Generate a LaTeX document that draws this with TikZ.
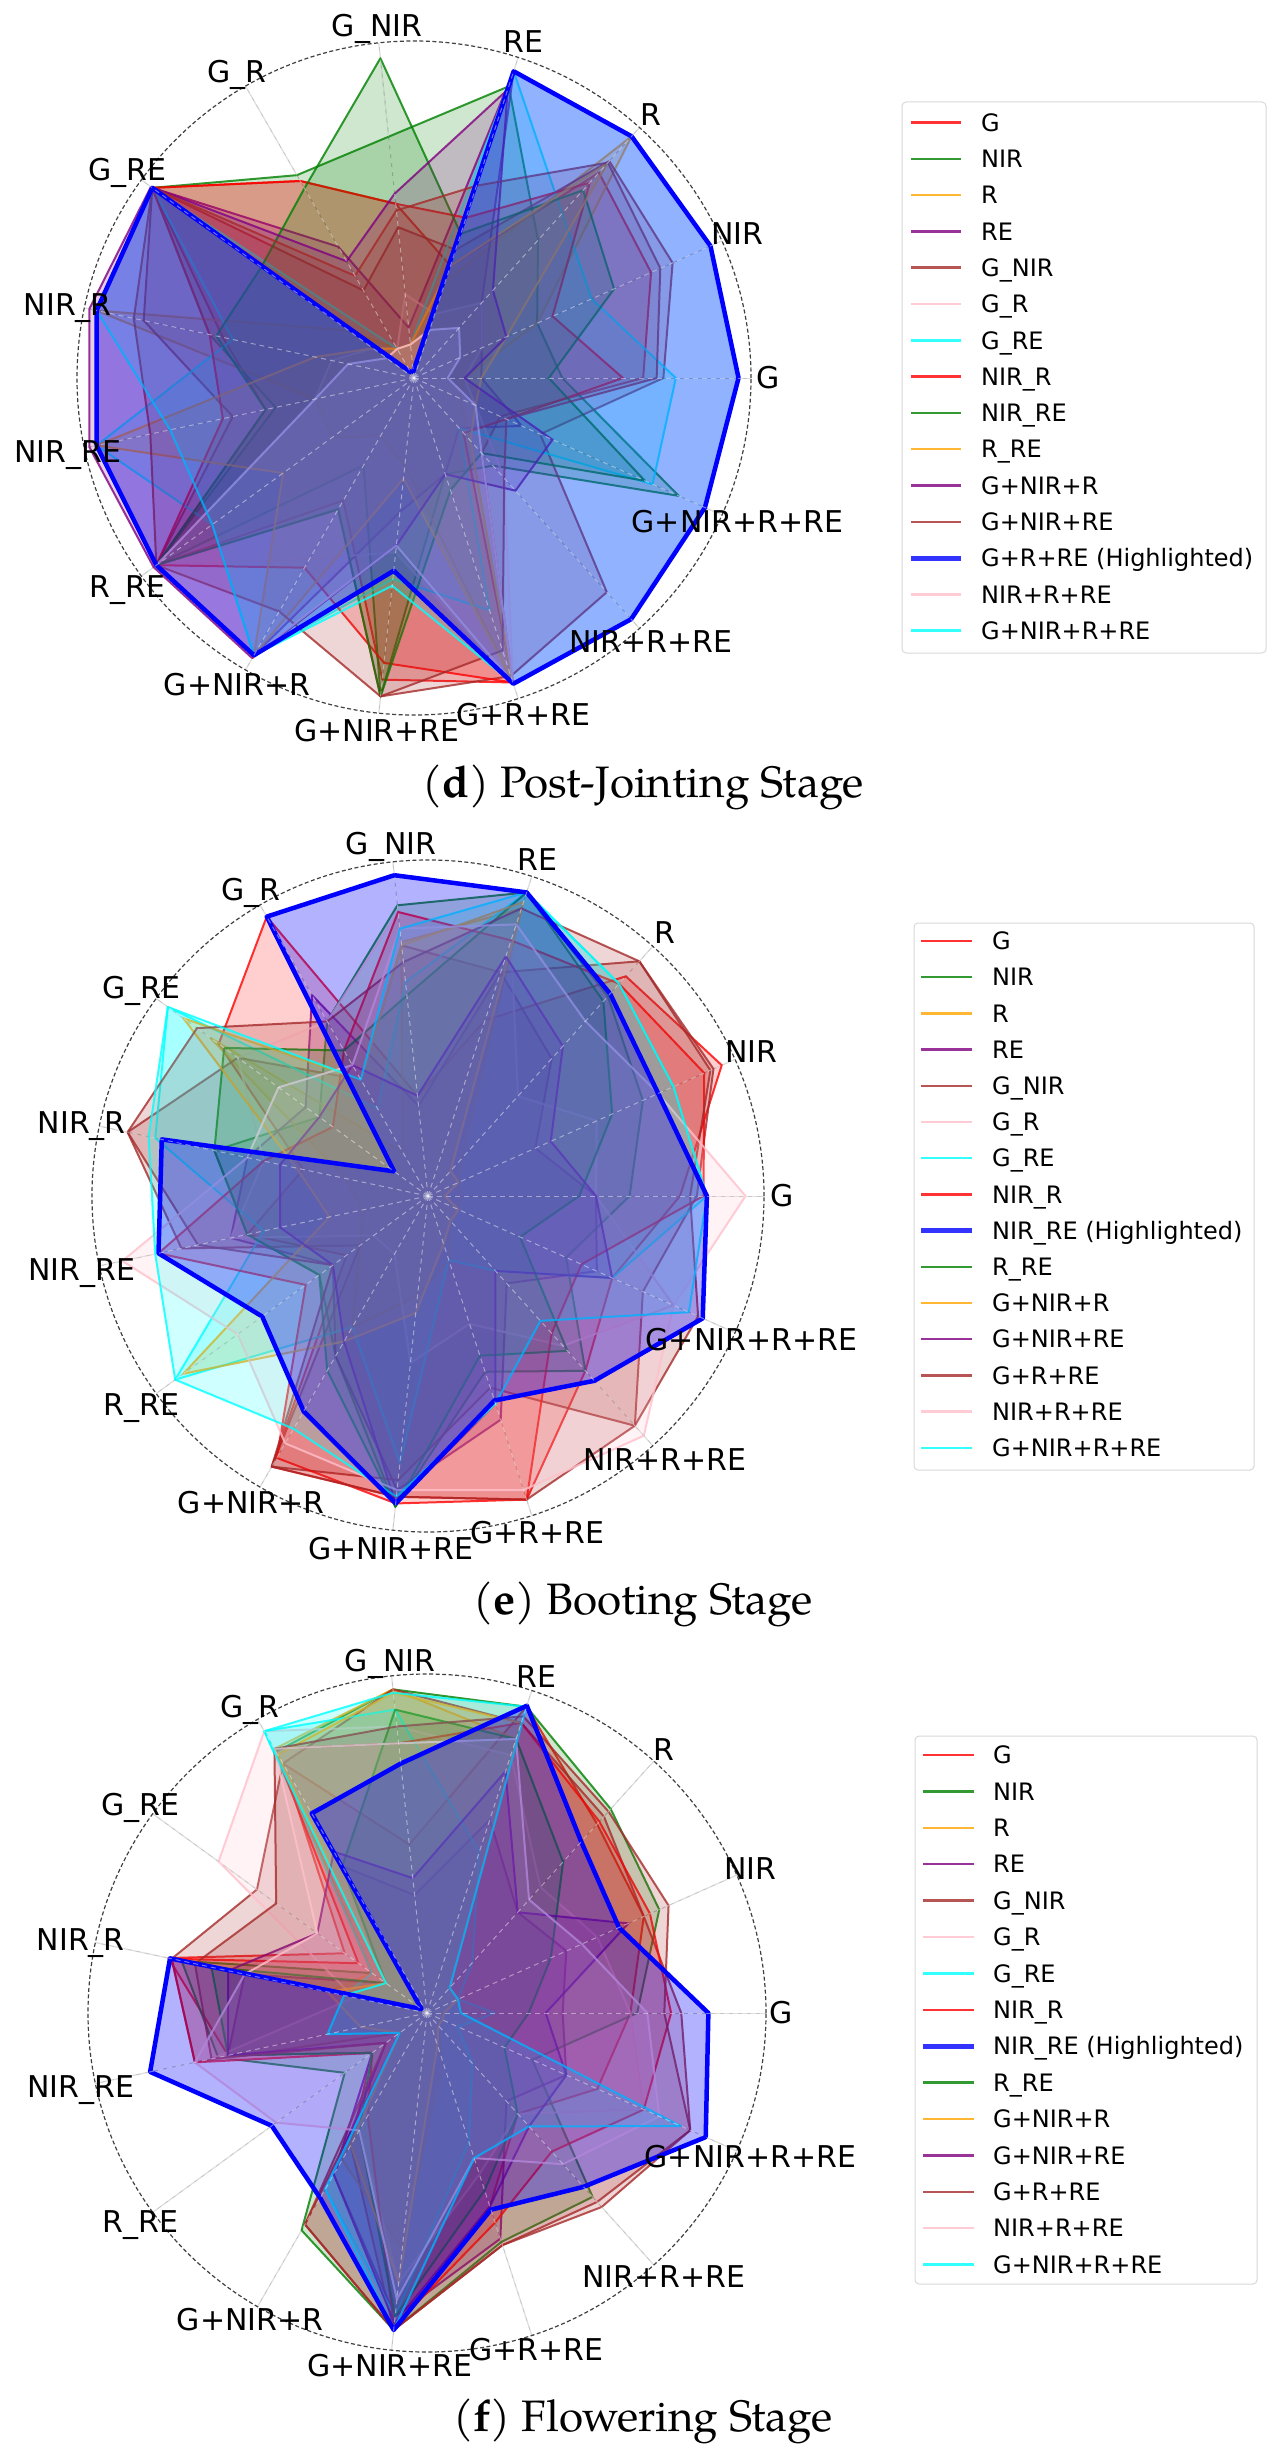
\documentclass[tikz,border=0pt]{standalone}
\usepackage{fontspec}
\setmainfont{DejaVu Sans}
\newfontfamily\capfont{TeX Gyre Pagella}
\definecolor{mred}{HTML}{FF0000}
\definecolor{mgreen}{HTML}{008000}
\definecolor{morange}{HTML}{FFA500}
\definecolor{mpurple}{HTML}{800080}
\definecolor{mbrown}{HTML}{A52A2A}
\definecolor{mpink}{HTML}{FFC0CB}
\definecolor{mcyan}{HTML}{00FFFF}
\definecolor{mblue}{HTML}{0000FF}
\tikzset{
  ser/.style={draw=#1, draw opacity=0.8, fill=#1, fill opacity=0.19, line width=2pt, line join=round},
  hlser/.style={draw=mblue, fill=mblue, fill opacity=0.3, line width=4.5pt, line join=round},
  gridln/.style={draw=gray!45, line width=1pt},
  gridov/.style={draw=white, draw opacity=0.45, line width=1pt, dash pattern=on 5pt off 4pt},
  outer/.style={draw=black!75, line width=1.2pt, dash pattern=on 4pt off 2.5pt},
  axlab/.style={font=\fontsize{30}{36}\selectfont, inner sep=0pt, text height=21.9pt, text depth=0pt, anchor=center},
  legbox/.style={draw=black!15, fill=white, rounded corners=4pt, line width=1pt},
  legtxt/.style={font=\fontsize{24}{29}\selectfont, inner sep=0pt, anchor=base west},
  captxt/.style={font={\capfont\fontsize{44}{52}\selectfont}, inner sep=0pt, anchor=base},
}
\newcommand\rpoly[3]{\path[#1] (0:{#2*\RR}) \foreach \v [count=\i] in {#3} { -- ({\i*24}:{\v*\RR}) } -- cycle;}
\newcommand\chartgrid{%
  \foreach \a in {0,24,...,336} \draw[gridln] (0,0) -- (\a:\RR);}
\newcommand\chartover[1]{%
  \foreach \a in {0,24,...,336} \draw[gridov] (0,0) -- (\a:\RR);
  \draw[outer] (0,0) circle[radius=\RR];
  \foreach \a/\t [count=\k] in {0/G,24/NIR,48/R,72/RE,96/G\_NIR,120/G\_R,144/G\_RE,168/NIR\_R,192/NIR\_RE,216/R\_RE,240/G+NIR+R,264/G+NIR+RE,288/G+R+RE,312/NIR+R+RE,336/G+NIR+R+RE}
    \node[axlab] (#1lab\k) at (\a:354) {\t};}
\begin{document}
\begin{tikzpicture}[x=1pt,y=-1pt]
\useasboundingbox (0,0) rectangle (1280,2459);
\fill[white] (0,0) rectangle (1280,2459);

% ---------------- chart d ----------------
\begin{scope}[shift={(414,378)}, yscale=-1]
\def\RR{337}
\chartgrid
\rpoly{ser=mred}{0.68}{0.77,0.82,0.35,0.52,0.675,0.96,0.58,0.45,0.945,0.42,0.90,0.95,0.30,0.28}
\rpoly{ser=mgreen}{0.44}{0.40,0.55,0.91,0.72,0.695,0.96,0.62,0.42,0.945,0.30,0.95,0.30,0.35,0.86}
\rpoly{ser=morange}{0.15}{0.40,0.965,0.30,0.10,0.10,0.24,0.963,0.30,0.30,0.20,0.26,0.95,0.25,0.15}
\rpoly{ser=mpurple}{0.20}{0.22,0.30,0.957,0.15,0.45,0.96,0.963,0.963,0.945,0.95,0.40,0.30,0.20,0.35}
\rpoly{ser=mbrown}{0.74}{0.84,0.866,0.40,0.45,0.30,0.96,0.82,0.55,0.945,0.45,0.95,0.93,0.855,0.41}
\rpoly{ser=mpink}{0.15}{0.22,0.30,0.20,0.25,0.10,0.15,0.25,0.30,0.945,0.62,0.52,0.95,0.40,0.20}
\rpoly{ser=mcyan}{0.777}{0.577,0.657,0.957,0.10,0.10,0.96,0.55,0.963,0.74,0.95,0.60,0.725,0.20,0.775}
\rpoly{ser=mred}{0.62}{0.45,0.78,0.50,0.52,0.675,0.96,0.62,0.58,0.945,0.65,0.85,0.95,0.22,0.30}
\rpoly{ser=mgreen}{0.40}{0.65,0.75,0.45,0.954,0.65,0.56,0.60,0.45,0.945,0.45,0.95,0.35,0.30,0.75}
\rpoly{ser=morange}{0.20}{0.30,0.86,0.35,0.10,0.10,0.15,0.30,0.963,0.48,0.95,0.30,0.94,0.25,0.20}
\rpoly{ser=mpurple}{0.15}{0.30,0.35,0.90,0.55,0.40,0.965,0.985,0.985,0.955,0.96,0.50,0.30,0.45,0.45}
\rpoly{ser=mbrown}{0.72}{0.80,0.86,0.60,0.50,0.35,0.96,0.85,0.80,0.945,0.80,0.95,0.85,0.40,0.30}
\rpoly{ser=mpink}{0.10}{0.15,0.20,0.15,0.10,0.10,0.10,0.20,0.30,0.945,0.95,0.50,0.95,0.30,0.20}
\rpoly{ser=mcyan}{0.963}{0.963,0.965,0.957,0.02,0.02,0.96,0.963,0.74,0.74,0.95,0.62,0.954,0.963,0.945}
\rpoly{hlser}{0.963}{0.963,0.965,0.957,0.02,0.02,0.96,0.963,0.963,0.945,0.95,0.575,0.954,0.963,0.945}
\chartover{d}
\end{scope}

% ---------------- chart e ----------------
\begin{scope}[shift={(428,1196)}, yscale=-1]
\def\RR{336}
\chartgrid
\rpoly{ser=mred}{0.75}{0.957,0.88,0.55,0.30,0.96,0.77,0.38,0.55,0.30,0.93,0.90,0.95,0.70,0.60}
\rpoly{ser=mgreen}{0.60}{0.70,0.80,0.95,0.87,0.60,0.40,0.65,0.55,0.40,0.55,0.93,0.55,0.70,0.45}
\rpoly{ser=morange}{0.10}{0.10,0.15,0.90,0.76,0.15,0.80,0.25,0.20,0.25,0.45,0.30,0.20,0.10,0.10}
\rpoly{ser=mpurple}{0.50}{0.35,0.55,0.70,0.27,0.69,0.45,0.55,0.60,0.35,0.55,0.88,0.70,0.35,0.55}
\rpoly{ser=mbrown}{0.80}{0.93,0.94,0.70,0.75,0.40,0.70,0.914,0.75,0.25,0.93,0.85,0.60,0.92,0.70}
\rpoly{ser=mpink}{0.50}{0.55,0.40,0.80,0.85,0.60,0.70,0.50,0.60,0.20,0.20,0.50,0.40,0.60,0.80}
\rpoly{ser=mcyan}{0.83}{0.80,0.85,0.95,0.64,0.30,0.957,0.83,0.50,0.93,0.45,0.80,0.20,0.30,0.60}
\rpoly{ser=mred}{0.82}{0.90,0.85,0.80,0.85,0.50,0.35,0.50,0.82,0.45,0.90,0.92,0.95,0.55,0.50}
\rpoly{ser=mgreen}{0.45}{0.60,0.78,0.95,0.60,0.50,0.75,0.65,0.55,0.40,0.60,0.93,0.50,0.62,0.30}
\rpoly{ser=morange}{0.05}{0.10,0.10,0.92,0.75,0.40,0.90,0.40,0.30,0.90,0.50,0.35,0.15,0.10,0.10}
\rpoly{ser=mpurple}{0.50}{0.40,0.60,0.75,0.30,0.45,0.40,0.45,0.45,0.35,0.50,0.92,0.65,0.30,0.60}
\rpoly{ser=mbrown}{0.78}{0.92,0.94,0.90,0.70,0.60,0.85,0.914,0.70,0.35,0.93,0.90,0.95,0.92,0.88}
\rpoly{ser=mpink}{0.945}{0.75,0.70,0.85,0.80,0.45,0.55,0.55,0.93,0.70,0.85,0.88,0.92,0.96,0.80}
\rpoly{ser=mcyan}{0.83}{0.80,0.85,0.95,0.80,0.40,0.957,0.85,0.83,0.93,0.80,0.90,0.65,0.50,0.85}
\rpoly{hlser}{0.83}{0.75,0.81,0.95,0.96,0.96,0.125,0.81,0.82,0.61,0.74,0.92,0.64,0.74,0.895}
\chartover{e}
\end{scope}

% ---------------- chart f ----------------
\begin{scope}[shift={(427,2013)}, yscale=-1]
\def\RR{339}
\chartgrid
\rpoly{ser=mred}{0.60}{0.70,0.75,0.95,0.50,0.85,0.30,0.78,0.60,0.20,0.45,0.94,0.60,0.40,0.55}
\rpoly{ser=mgreen}{0.62}{0.75,0.81,0.95,0.96,0.89,0.20,0.74,0.63,0.30,0.74,0.94,0.71,0.73,0.34}
\rpoly{ser=morange}{0.05}{0.10,0.10,0.85,0.96,0.90,0.20,0.30,0.20,0.10,0.50,0.70,0.15,0.05,0.05}
\rpoly{ser=mpurple}{0.40}{0.45,0.40,0.60,0.35,0.50,0.15,0.55,0.60,0.20,0.55,0.90,0.70,0.35,0.45}
\rpoly{ser=mbrown}{0.75}{0.70,0.78,0.90,0.96,0.85,0.62,0.77,0.70,0.10,0.72,0.94,0.72,0.75,0.85}
\rpoly{ser=mpink}{0.60}{0.55,0.50,0.80,0.85,0.96,0.76,0.22,0.65,0.20,0.40,0.80,0.50,0.40,0.70}
\rpoly{ser=mcyan}{0.20}{0.10,0.20,0.50,0.90,0.96,0.20,0.25,0.30,0.10,0.60,0.90,0.40,0.20,0.10}
\rpoly{ser=mred}{0.72}{0.72,0.76,0.90,0.80,0.90,0.25,0.77,0.70,0.20,0.35,0.93,0.65,0.55,0.70}
\rpoly{ser=mgreen}{0.30}{0.40,0.60,0.85,0.90,0.50,0.15,0.65,0.60,0.20,0.40,0.90,0.55,0.40,0.25}
\rpoly{ser=morange}{0.05}{0.10,0.10,0.90,0.95,0.88,0.15,0.30,0.20,0.10,0.45,0.80,0.10,0.05,0.05}
\rpoly{ser=mpurple}{0.35}{0.65,0.40,0.75,0.40,0.55,0.40,0.60,0.60,0.15,0.55,0.92,0.60,0.45,0.45}
\rpoly{ser=mbrown}{0.70}{0.78,0.80,0.92,0.85,0.90,0.55,0.70,0.65,0.15,0.72,0.94,0.72,0.77,0.85}
\rpoly{ser=mpink}{0.65}{0.50,0.45,0.85,0.80,0.90,0.40,0.55,0.70,0.55,0.40,0.85,0.45,0.60,0.75}
\rpoly{ser=mcyan}{0.10}{0.10,0.10,0.95,0.95,0.96,0.15,0.25,0.30,0.10,0.60,0.94,0.45,0.45,0.82}
\rpoly{hlser}{0.83}{0.62,0.68,0.953,0.74,0.68,0.02,0.775,0.835,0.566,0.63,0.94,0.61,0.69,0.90}
\chartover{f}
\end{scope}

% ---------------- legends ----------------
\draw[legbox] (902,102) rectangle (1266,653);
\foreach \c/\t/\w [count=\i from 0] in {mred/G/2.5,mgreen/NIR/2.5,morange/R/2.5,mpurple/RE/2.5,mbrown/G\_NIR/2.5,mpink/G\_R/2.5,mcyan/G\_RE/2.5,mred/NIR\_R/2.5,mgreen/NIR\_RE/2.5,morange/R\_RE/2.5,mpurple/G+NIR+R/2.5,mbrown/G+NIR+RE/2.5,mblue/G+R+RE (Highlighted)/5,mpink/NIR+R+RE/2.5,mcyan/G+NIR+R+RE/2.5}{
  \draw[draw=\c, draw opacity=0.8, line width=\w pt] (911,{122.5+36.3*\i}) -- (961,{122.5+36.3*\i});
  \node[legtxt] (legd\i) at (981,{122.5+36.3*\i+8.7}) {\t};
}
\draw[legbox] (914,923) rectangle (1254,1470);
\foreach \c/\t/\w [count=\i from 0] in {mred/G/2.5,mgreen/NIR/2.5,morange/R/2.5,mpurple/RE/2.5,mbrown/G\_NIR/2.5,mpink/G\_R/2.5,mcyan/G\_RE/2.5,mred/NIR\_R/2.5,mblue/NIR\_RE (Highlighted)/5,mgreen/R\_RE/2.5,morange/G+NIR+R/2.5,mpurple/G+NIR+RE/2.5,mbrown/G+R+RE/2.5,mpink/NIR+R+RE/2.5,mcyan/G+NIR+R+RE/2.5}{
  \draw[draw=\c, draw opacity=0.8, line width=\w pt] (921,{941+36.2*\i}) -- (972,{941+36.2*\i});
  \node[legtxt] (lege\i) at (992,{941+36.2*\i+8.7}) {\t};
}
\draw[legbox] (915,1736) rectangle (1257,2284);
\foreach \c/\t/\w [count=\i from 0] in {mred/G/2.5,mgreen/NIR/2.5,morange/R/2.5,mpurple/RE/2.5,mbrown/G\_NIR/2.5,mpink/G\_R/2.5,mcyan/G\_RE/2.5,mred/NIR\_R/2.5,mblue/NIR\_RE (Highlighted)/5,mgreen/R\_RE/2.5,morange/G+NIR+R/2.5,mpurple/G+NIR+RE/2.5,mbrown/G+R+RE/2.5,mpink/NIR+R+RE/2.5,mcyan/G+NIR+R+RE/2.5}{
  \draw[draw=\c, draw opacity=0.8, line width=\w pt] (923,{1755+36.4*\i}) -- (974,{1755+36.4*\i});
  \node[legtxt] (legf\i) at (993,{1755+36.4*\i+8.7}) {\t};
}

% ---------------- captions ----------------
\node[captxt] (capd) at (643,797) {(\textbf{d}) Post-Jointing Stage};
\node[captxt] (cape) at (643,1614) {(\textbf{e}) Booting Stage};
\node[captxt] (capf) at (643,2431) {(\textbf{f}) Flowering Stage};
\end{tikzpicture}
\end{document}
